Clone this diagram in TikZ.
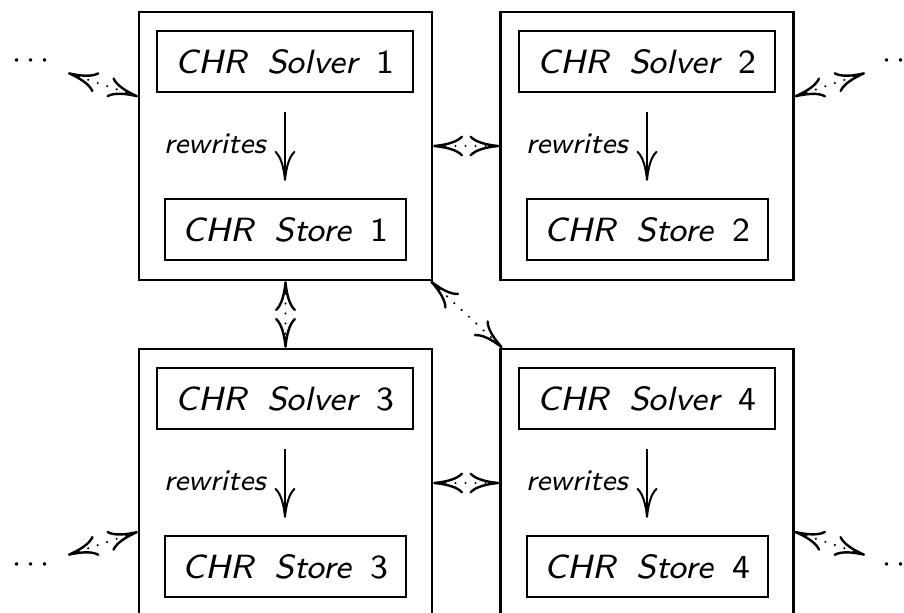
\documentclass[tikz,border=0pt]{standalone}
\usetikzlibrary{arrows.meta}
% box captions: 8pt sans italic with an upright number, enlarged
\newcommand{\unitlabel}[3]{\scalebox{2.1}{\fontsize{8}{10}\selectfont\sffamily\itshape #1\hspace{0.6em}#2\hspace{0.55em}{\upshape #3}}}
\newcommand{\rwtext}{\scalebox{1.85}{\fontsize{8}{10}\selectfont\sffamily\itshape rewrites}}
\begin{document}
\begin{tikzpicture}[x=0.5pt,y=-0.5pt,
  >={Computer Modern Rightarrow[length=15pt,width=10.5pt]},
  agent/.style={draw,line width=1.1pt,minimum width=146.5pt,minimum height=134pt,inner sep=0pt},
  part/.style={draw,line width=1.1pt,minimum height=30.5pt,inner sep=0pt,text height=11.66pt,text depth=0pt},
  solver/.style={part,minimum width=128pt},
  store/.style={part,minimum width=120.5pt},
  rw/.style={->,line width=1pt,shorten <=9.5pt,shorten >=8.5pt},
  rwlabel/.style={inner sep=0pt,anchor=base east},
  link/.style={<->,line width=1.2pt,dash pattern=on 0pt off 5pt,line cap=round},
  more/.style={inner sep=0pt,anchor=base}
]
\useasboundingbox (0,0) rectangle (904,613);
\clip (0,0) rectangle (904,613);

% the four solver/store units
\node[agent] (b1) at (285.5,146) {};
\node[agent] (b2) at (647,146) {};
\node[agent] (b3) at (285.5,483) {};
\node[agent] (b4) at (647,483) {};

\node[solver] (s1) at (285,61.5) {\unitlabel{CHR}{Solver}{1}};
\node[solver] (s2) at (647,61.5) {\unitlabel{CHR}{Solver}{2}};
\node[solver] (s3) at (285,398.5) {\unitlabel{CHR}{Solver}{3}};
\node[solver] (s4) at (647,398.5) {\unitlabel{CHR}{Solver}{4}};

\node[store] (t1) at (285.5,229.5) {\unitlabel{CHR}{Store}{1}};
\node[store] (t2) at (647.5,229.5) {\unitlabel{CHR}{Store}{2}};
\node[store] (t3) at (285.5,566.5) {\unitlabel{CHR}{Store}{3}};
\node[store] (t4) at (647.5,566.5) {\unitlabel{CHR}{Store}{4}};

% solver rewrites its store
\draw[rw] (s1.south -| 285,0) -- (t1.north -| 285,0);
\draw[rw] (s2.south -| 647,0) -- (t2.north -| 647,0);
\draw[rw] (s3.south -| 285,0) -- (t3.north -| 285,0);
\draw[rw] (s4.south -| 647,0) -- (t4.north -| 647,0);

\node[rwlabel] (r1) at (266,154) {\rwtext};
\node[rwlabel] (r2) at (628,154) {\rwtext};
\node[rwlabel] (r3) at (266,491) {\rwtext};
\node[rwlabel] (r4) at (628,491) {\rwtext};

% communication links
\coordinate (c1) at (68,73);
\coordinate (c2) at (865,73);
\coordinate (c3) at (68,555);
\coordinate (c4) at (865,555);

\node[more] (m1) at (31,69) {\scalebox{1.62}{$\cdots$}};
\node[more] (m2) at (901,69) {\scalebox{1.62}{$\cdots$}};
\node[more] (m3) at (31,573) {\scalebox{1.62}{$\cdots$}};
\node[more] (m4) at (901,573) {\scalebox{1.62}{$\cdots$}};

\draw[link] (b1) -- (b2);
\draw[link] (b3) -- (b4);
\draw[link] (b1) -- (b3);
\draw[link] (b1) -- (b4);
\draw[link] (b1) -- (c1);
\draw[link] (b2) -- (c2);
\draw[link] (b3) -- (c3);
\draw[link] (b4) -- (c4);
\end{tikzpicture}
\end{document}
